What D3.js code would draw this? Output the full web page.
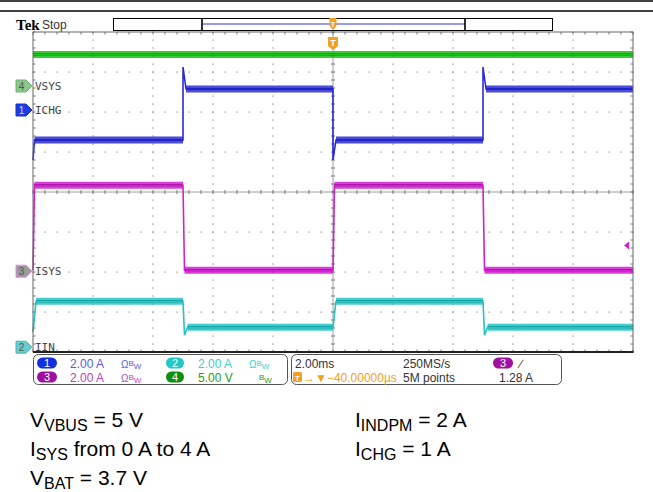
<!DOCTYPE html>
<html>
<head>
<meta charset="utf-8">
<script src="https://cdn.jsdelivr.net/npm/d3@7"></script>
<style>
  body { margin: 0; background: #fff; }
  svg { display: block; font-family: "Liberation Sans", Arial, sans-serif; }
</style>
</head>
<body>
<svg id="scope"></svg>
<script>
(function() {
  'use strict';

// time base: 2 ms/div, 10 divisions, trigger at centre
var timeDomain = [-10, 10];

// channel order as listed on the left: ch4, ch1, ch3, ch2
var chIds = [4, 1, 3, 2];
var chNames = ['VSYS', 'ICHG', 'ISYS', 'IIN'];
var chPerDiv = [5, 2, 2, 2];            // V/div or A/div
var chOffset = [2.65, 2.05, -1.98, -3.88]; // ground marker, divisions from centre

// traces: time (ms) / value pairs
var vsysT = [-10, 10];
var vsysV = [3.95, 3.95];
var ichgT = [-10, -9.95, -5, -5, -4.9, 0, 0, 0.1, 5, 5, 5.1, 10];
var ichgV = [-2.5, -1.5, -1.5, 2.15, 1.05, 1.05, -2.5, -1.5, -1.5, 2.15, 1.05, 1.05];
var isysT = [-10, -9.95, -5, -4.95, 0, 0.05, 5, 5.05, 10];
var isysV = [0.05, 4.3, 4.3, 0.05, 0.05, 4.3, 4.3, 0.05, 0.05];
var iinT = [-10, -9.9, -5, -4.95, -4.85, 0, 0.1, 5, 5.05, 5.15, 10];
var iinV = [0.75, 2.3, 2.3, 0.6, 1.0, 1.0, 2.3, 2.3, 0.6, 1.0, 1.0];

var trigLevel = 1.28; // A on ch3

// readout texts
var chRow1 = ['2.00 A', '2.00 A'];
var chRow2 = ['2.00 A', '5.00 V'];
var horizLabels = ['2.00ms', '250MS/s', '5M points'];
var trigDelay = '\u221240.00000\u00b5s';
var trigLabel = '1.28 A';

// conditions below the screen
var condLeft = [['V', 'VBUS', ' = 5 V'], ['I', 'SYS', ' from 0 A to 4 A'], ['V', 'BAT', ' = 3.7 V']];
var condRight = [['I', 'INDPM', ' = 2 A'], ['I', 'CHG', ' = 1 A']];

var colors = {
  1: {band: '#2a2ad6', core: '#10107a', tag: '#1c3ce6', text: '#5a5ae0'},
  2: {band: '#22c4c4', core: '#0a8c8c', tag: '#66cccc', text: '#3ccfcf'},
  3: {band: '#d020d0', core: '#8a0a8a', tag: '#9a9a9a', text: '#c040c0'},
  4: {band: '#18c018', core: '#0a820a', tag: '#88c888', text: '#22a022'}
};

var width = 653, height = 492;
var left = 33, right = 633, top = 32, bottom = 352;

var svg = d3.select('#scope')
  .attr('width', width)
  .attr('height', height);

var x = d3.scaleLinear().domain(timeDomain).range([left, right]);
var xDiv = d3.scaleLinear().domain([0, 10]).range([left, right]);
var yDiv = d3.scaleLinear().domain([-4, 4]).range([bottom, top]);

function chScale(i) {
  return d3.scaleLinear()
    .domain([0, chPerDiv[i]])
    .range([yDiv(chOffset[i]), yDiv(chOffset[i] + 1)]);
}

// header lines
[1, 11].forEach(function(yy) {
  svg.append('line').attr('x1', 0).attr('x2', width).attr('y1', yy).attr('y2', yy)
    .attr('stroke', '#000').attr('stroke-width', 1.3);
});

svg.append('text').attr('x', 16).attr('y', 30)
  .style('font-family', '"Liberation Serif", "DejaVu Serif", serif')
  .style('font-weight', 'bold').style('font-size', '15px').text('Tek');
svg.append('text').attr('x', 42).attr('y', 29)
  .style('font-size', '12px').attr('fill', '#333').text('Stop');

// record view bar
svg.append('rect').attr('x', 113.5).attr('y', 18.5).attr('width', 439).attr('height', 12)
  .attr('fill', '#fff').attr('stroke', '#000');
svg.append('line').attr('x1', 202).attr('x2', 465).attr('y1', 24).attr('y2', 24)
  .attr('stroke', '#9a9af2').attr('stroke-width', 2);
[202, 465].forEach(function(xx) {
  svg.append('line').attr('x1', xx).attr('x2', xx).attr('y1', 18).attr('y2', 31)
    .attr('stroke', '#000').attr('stroke-width', 1.6);
});
svg.append('path')
  .attr('d', 'M329.5,18 h7 v8 l-3.5,4 l-3.5,-4 z')
  .attr('fill', '#f5a020');

// graticule
var g = svg.append('g');
g.append('rect').attr('x', left).attr('y', top).attr('width', right - left).attr('height', bottom - top)
  .attr('fill', '#fff');

var minorX = d3.range(0, 50.5).map(function(i) { return i * 0.2; });
var minorY = d3.range(0, 40.5).map(function(i) { return -4 + i * 0.2; });

d3.range(1, 10).filter(function(k) { return k !== 5; }).forEach(function(k) {
  g.selectAll(null).data(minorY).enter().append('rect')
    .attr('x', xDiv(k) - 0.5).attr('y', function(d) { return yDiv(d) - 0.5; })
    .attr('width', 1.2).attr('height', 1.2).attr('fill', '#8a8a8a');
});
d3.range(-3, 4).filter(function(k) { return k !== 0; }).forEach(function(k) {
  g.selectAll(null).data(minorX).enter().append('rect')
    .attr('x', function(d) { return xDiv(d) - 0.5; }).attr('y', yDiv(k) - 0.5)
    .attr('width', 1.2).attr('height', 1.2).attr('fill', '#8a8a8a');
});

// centre cross with ticks
g.append('line').attr('x1', left).attr('x2', right).attr('y1', yDiv(0)).attr('y2', yDiv(0))
  .attr('stroke', '#888').attr('stroke-width', 0.8);
g.append('line').attr('x1', xDiv(5)).attr('x2', xDiv(5)).attr('y1', top).attr('y2', bottom)
  .attr('stroke', '#888').attr('stroke-width', 0.8);
g.selectAll(null).data(minorX).enter().append('line')
  .attr('x1', function(d) { return xDiv(d); }).attr('x2', function(d) { return xDiv(d); })
  .attr('y1', yDiv(0) - 2).attr('y2', yDiv(0) + 2).attr('stroke', '#777');
g.selectAll(null).data(minorY).enter().append('line')
  .attr('y1', function(d) { return yDiv(d); }).attr('y2', function(d) { return yDiv(d); })
  .attr('x1', xDiv(5) - 2).attr('x2', xDiv(5) + 2).attr('stroke', '#777');

// edge ticks
g.selectAll(null).data(minorX).enter().append('line')
  .attr('x1', function(d) { return xDiv(d); }).attr('x2', function(d) { return xDiv(d); })
  .attr('y1', top).attr('y2', top + 2.5).attr('stroke', '#777');
g.selectAll(null).data(minorX).enter().append('line')
  .attr('x1', function(d) { return xDiv(d); }).attr('x2', function(d) { return xDiv(d); })
  .attr('y1', bottom).attr('y2', bottom - 2.5).attr('stroke', '#777');
g.selectAll(null).data(minorY).enter().append('line')
  .attr('y1', function(d) { return yDiv(d); }).attr('y2', function(d) { return yDiv(d); })
  .attr('x1', left).attr('x2', left + 2.5).attr('stroke', '#777');
g.selectAll(null).data(minorY).enter().append('line')
  .attr('y1', function(d) { return yDiv(d); }).attr('y2', function(d) { return yDiv(d); })
  .attr('x1', right).attr('x2', right - 2.5).attr('stroke', '#777');

// traces
var traces = [[vsysT, vsysV], [ichgT, ichgV], [isysT, isysV], [iinT, iinV]];
var tg = svg.append('g');

traces.forEach(function(tr, i) {
  var ys = chScale(i);
  var c = colors[chIds[i]];
  var pts = tr[0].map(function(t, j) { return [t, tr[1][j]]; });
  var line = d3.line()
    .x(function(d) { return x(d[0]); })
    .y(function(d) { return ys(d[1]); });

  // flat parts get the wide noisy band, edges stay thin
  var flats = [];
  for (var j = 1; j < pts.length; j++) {
    if (pts[j][0] - pts[j - 1][0] > 0.3) flats.push([pts[j - 1], pts[j]]);
  }
  tg.selectAll(null).data(flats).enter().append('path')
    .attr('d', line).attr('fill', 'none')
    .attr('stroke', c.band).attr('stroke-width', 7).attr('opacity', 0.85);
  tg.selectAll(null).data(flats).enter().append('path')
    .attr('d', line).attr('fill', 'none')
    .attr('stroke', c.core).attr('stroke-width', 2.2);
  tg.append('path').datum(pts)
    .attr('d', line).attr('fill', 'none')
    .attr('stroke', c.band).attr('stroke-width', 1.6);
});

// border
svg.append('rect').attr('x', left).attr('y', top).attr('width', right - left).attr('height', bottom - top)
  .attr('fill', 'none').attr('stroke', '#666').attr('stroke-width', 1);
svg.append('line').attr('x1', left).attr('x2', right + 0.5).attr('y1', bottom).attr('y2', bottom)
  .attr('stroke', '#222').attr('stroke-width', 2);

// channel markers and names
chIds.forEach(function(id, i) {
  var yy = yDiv(chOffset[i]);
  var c = colors[id];
  svg.append('path')
    .attr('d', 'M16,' + (yy - 6) + ' h10 l6,6 l-6,6 h-10 z')
    .attr('fill', c.tag)
    .attr('stroke', id === 3 ? '#e48ae4' : d3.color(c.tag).darker(0.4))
    .attr('stroke-width', 1);
  svg.append('text').attr('x', 21.5).attr('y', yy + 4)
    .attr('text-anchor', 'middle').style('font-size', '10px')
    .attr('fill', id === 1 ? '#dde' : '#555').text(id);
  svg.append('text').attr('x', 35).attr('y', yy + 4)
    .style('font-family', '"DejaVu Sans Mono", monospace').style('font-size', '11px')
    .attr('fill', '#444').text(chNames[i]);
});

// trigger markers
svg.append('path')
  .attr('d', 'M' + (x(0) - 5) + ',37 h10 v9 l-5,4 l-5,-4 z')
  .attr('fill', '#f5a020');
svg.append('text').attr('x', x(0)).attr('y', 46).attr('text-anchor', 'middle')
  .style('font-size', '9px').style('font-weight', 'bold').attr('fill', '#fff').text('T');
svg.append('text').attr('x', 333).attr('y', 27).attr('text-anchor', 'middle')
  .style('font-size', '7px').style('font-weight', 'bold').attr('fill', '#fff').text('T');
var trigY = chScale(2)(trigLevel);
svg.append('path')
  .attr('d', 'M624,' + trigY + ' l5,-4 v8 z').attr('fill', colors[3].band);

// readout panels
svg.append('rect').attr('x', 33.5).attr('y', 354.5).attr('width', 254).attr('height', 30)
  .attr('rx', 5).attr('fill', '#fff').attr('stroke', '#555');
svg.append('rect').attr('x', 291.5).attr('y', 354.5).attr('width', 270).attr('height', 30)
  .attr('rx', 5).attr('fill', '#fff').attr('stroke', '#555');

function pill(cx, cy, w, fill, label) {
  svg.append('rect').attr('x', cx - w / 2).attr('y', cy - 5.5).attr('width', w).attr('height', 11)
    .attr('rx', 5.5).attr('fill', fill);
  svg.append('text').attr('x', cx).attr('y', cy + 4).attr('text-anchor', 'middle')
    .style('font-size', '11px').attr('fill', '#fff').text(label);
}
function bw(xx, yy, col, omega) {
  var t = svg.append('text').attr('x', xx).attr('y', yy).style('font-size', '10px').attr('fill', col);
  if (omega) t.append('tspan').text('\u03a9');
  t.append('tspan').attr('dy', -2).style('font-size', '8px').text('B');
  t.append('tspan').attr('dy', 3).style('font-size', '8px').text('W');
}

var r1 = 368, r2 = 382;
pill(47, 363, 20, '#1030e0', '1');
pill(175, 363, 18, '#20c8c8', '2');
pill(47, 377, 20, '#a010a0', '3');
pill(175, 377, 18, '#109010', '4');
svg.append('text').attr('x', 70).attr('y', r1).style('font-size', '12px').attr('fill', colors[1].text).text(chRow1[0]);
svg.append('text').attr('x', 198).attr('y', r1).style('font-size', '12px').attr('fill', colors[2].text).text(chRow1[1]);
svg.append('text').attr('x', 70).attr('y', r2).style('font-size', '12px').attr('fill', colors[3].text).text(chRow2[0]);
svg.append('text').attr('x', 198).attr('y', r2).style('font-size', '12px').attr('fill', colors[4].text).text(chRow2[1]);
bw(121, r1, colors[1].text, true);
bw(249, r1, colors[2].text, true);
bw(121, r2, colors[3].text, true);
bw(259, r2, colors[4].text, false);

svg.append('text').attr('x', 295).attr('y', r1).style('font-size', '12px').attr('fill', '#333').text(horizLabels[0]);
svg.append('text').attr('x', 403).attr('y', r1).style('font-size', '12px').attr('fill', '#333').text(horizLabels[1]);
svg.append('text').attr('x', 403).attr('y', r2).style('font-size', '12px').attr('fill', '#333').text(horizLabels[2]);
svg.append('rect').attr('x', 293).attr('y', 372).attr('width', 9).attr('height', 10).attr('rx', 1.5).attr('fill', '#f5a020');
svg.append('text').attr('x', 297.5).attr('y', 380.5).attr('text-anchor', 'middle')
  .style('font-size', '8px').style('font-weight', 'bold').attr('fill', '#fff').text('T');
svg.append('text').attr('x', 303).attr('y', r2).style('font-size', '12px').attr('fill', '#f5a020')
  .text('\u2192\u25bc' + trigDelay);
pill(503, 363, 20, '#a010a0', '3');
svg.append('text').attr('x', 520).attr('y', r1).style('font-size', '12px').attr('fill', '#333').text('\u2215');
svg.append('text').attr('x', 499).attr('y', r2).style('font-size', '12px').attr('fill', '#333').text(trigLabel);

// conditions
function cond(xx, yy, parts) {
  var t = svg.append('text').attr('x', xx).attr('y', yy).style('font-size', '21px').attr('fill', '#000');
  t.append('tspan').text(parts[0]);
  t.append('tspan').attr('dy', 3.5).style('font-size', '16px').text(parts[1]);
  t.append('tspan').attr('dy', -3.5).text(parts[2]);
}
condLeft.forEach(function(p, i) { cond(30, 427 + i * 29, p); });
condRight.forEach(function(p, i) { cond(355, 427 + i * 29, p); });
}());
</script>
</body>
</html>
